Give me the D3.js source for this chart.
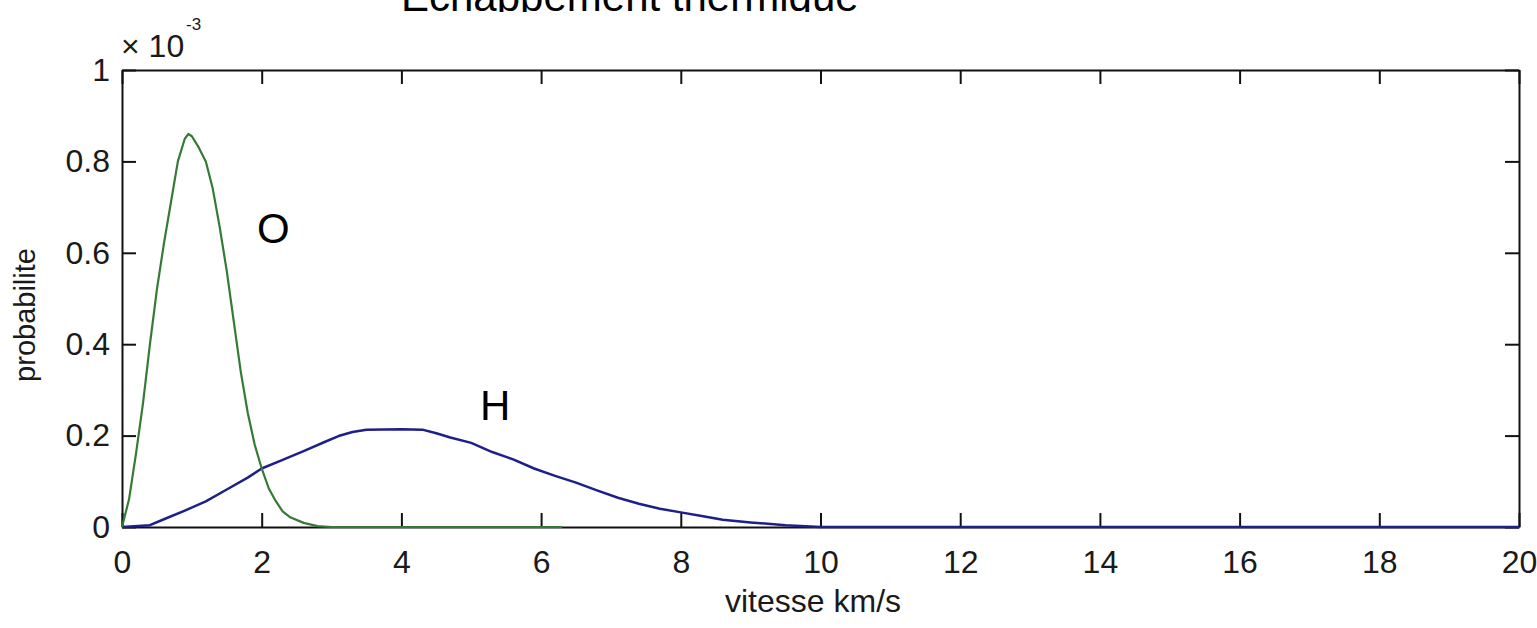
<!DOCTYPE html>
<html>
<head>
<meta charset="utf-8">
<script src="https://cdn.jsdelivr.net/npm/d3@7"></script>
<style>
  html, body { margin: 0; padding: 0; background: #ffffff; }
  svg { display: block; }
  text { font-family: "Liberation Sans", Arial, Helvetica, sans-serif; }
</style>
</head>
<body>
<svg id="chart" width="1537" height="628"></svg>
<script>
// ---- Data (probability values in units of 10^-3) ----
const oSpeed = [0, 0.1, 0.2, 0.3, 0.4, 0.5, 0.6, 0.7, 0.8, 0.9, 0.95, 1.0, 1.1, 1.2, 1.3, 1.4, 1.5, 1.6, 1.7, 1.8, 1.9, 2.0, 2.1, 2.2, 2.3, 2.4, 2.6, 2.8, 3.0, 6.3];
const oProb  = [0, 0.06, 0.16, 0.27, 0.40, 0.52, 0.62, 0.71, 0.80, 0.85, 0.86, 0.855, 0.83, 0.80, 0.74, 0.655, 0.56, 0.45, 0.34, 0.25, 0.18, 0.128, 0.085, 0.057, 0.034, 0.022, 0.009, 0.002, 0, 0];

const hSpeed = [0, 0.4, 0.6, 0.9, 1.2, 1.5, 1.8, 2.0, 2.3, 2.6, 2.9, 3.1, 3.3, 3.5, 4.0, 4.3, 4.5, 4.7, 5.0, 5.3, 5.6, 5.9, 6.2, 6.5, 6.8, 7.1, 7.4, 7.7, 8.0, 8.3, 8.6, 9.0, 9.5, 10, 20];
const hProb  = [0, 0.004, 0.017, 0.036, 0.056, 0.082, 0.108, 0.128, 0.147, 0.166, 0.186, 0.199, 0.208, 0.213, 0.214, 0.213, 0.205, 0.196, 0.184, 0.164, 0.148, 0.128, 0.112, 0.097, 0.080, 0.064, 0.051, 0.040, 0.032, 0.024, 0.016, 0.010, 0.004, 0, 0];

const xTicks = [0, 2, 4, 6, 8, 10, 12, 14, 16, 18, 20];
const yTicks = [0, 0.2, 0.4, 0.6, 0.8, 1];
const yTickLabels = ["0", "0.2", "0.4", "0.6", "0.8", "1"];

const titleText = "Echappement thermique";
const xLabel = "vitesse km/s";
const yLabel = "probabilite";
const expBase = "\u00d7 10";
const expPower = "-3";
const curveNames = ["O", "H"];

// ---- Layout ----
const svg = d3.select("#chart");
const mLeft = 122, mRight = 1519, mTop = 70, mBottom = 527;
const x = d3.scaleLinear().domain([0, 20]).range([mLeft, mRight]);
const y = d3.scaleLinear().domain([0, 1]).range([mBottom, mTop]);

const axisColor = "#111111";
const textColor = "#1a1a1a";
const tickLen = 14;

// Title (only its lower part is visible in the original)
svg.append("clipPath").attr("id", "titleClip")
  .append("rect").attr("x", 0).attr("y", 0).attr("width", 1537).attr("height", 12);
svg.append("text")
  .attr("clip-path", "url(#titleClip)")
  .attr("x", 401).attr("y", 11)
  .attr("font-size", 42).attr("fill", "#000")
  .text(titleText);

// Box + ticks
function styleAxis(g) {
  g.select(".domain").attr("stroke", axisColor).attr("stroke-width", 2);
  g.selectAll(".tick line").attr("stroke", axisColor).attr("stroke-width", 2);
  g.selectAll(".tick text").attr("fill", textColor)
    .attr("font-family", "'Liberation Sans', Arial, sans-serif").attr("font-size", 32);
}

const xAxisB = d3.axisBottom(x).tickValues(xTicks).tickFormat(d3.format("d"))
  .tickSizeInner(-tickLen).tickSizeOuter(0).tickPadding(23);
svg.append("g").attr("transform", `translate(0,${mBottom})`).call(xAxisB).call(styleAxis);

const xAxisT = d3.axisTop(x).tickValues(xTicks).tickFormat("")
  .tickSizeInner(-tickLen).tickSizeOuter(0);
svg.append("g").attr("transform", `translate(0,${mTop})`).call(xAxisT).call(styleAxis);

const yAxisL = d3.axisLeft(y).tickValues(yTicks).tickFormat((d, i) => yTickLabels[i])
  .tickSizeInner(-tickLen).tickSizeOuter(0).tickPadding(12);
svg.append("g").attr("transform", `translate(${mLeft},0)`).call(yAxisL).call(styleAxis);

const yAxisR = d3.axisRight(y).tickValues(yTicks).tickFormat("")
  .tickSizeInner(-tickLen).tickSizeOuter(0);
svg.append("g").attr("transform", `translate(${mRight},0)`).call(yAxisR).call(styleAxis);

// Exponent label
svg.append("text").attr("x", 121).attr("y", 57)
  .attr("font-size", 32).attr("fill", textColor).text(expBase);
svg.append("text").attr("x", 186).attr("y", 30)
  .attr("font-size", 17).attr("fill", textColor).text(expPower);

// Axis labels
svg.append("text").attr("x", 813).attr("y", 612).attr("text-anchor", "middle")
  .attr("font-size", 32).attr("fill", textColor).text(xLabel);
svg.append("text").attr("transform", "translate(35,315) rotate(-90)")
  .attr("text-anchor", "middle")
  .attr("font-size", 29).attr("fill", textColor).text(yLabel);

// Curves
const line = d3.line().x(d => x(d[0])).y(d => y(d[1]));
const hData = hSpeed.map((v, i) => [v, hProb[i]]);
const oData = oSpeed.map((v, i) => [v, oProb[i]]);

svg.append("path").datum(hData).attr("d", line)
  .attr("fill", "none").attr("stroke", "#1f1f8a").attr("stroke-width", 2.5)
  .attr("stroke-linejoin", "round");
svg.append("path").datum(oData).attr("d", line)
  .attr("fill", "none").attr("stroke", "#357a35").attr("stroke-width", 2.2)
  .attr("stroke-linejoin", "round");

// Curve annotations
svg.append("text").attr("x", 257).attr("y", 243)
  .attr("font-size", 42).attr("fill", "#000").text(curveNames[0]);
svg.append("text").attr("x", 480).attr("y", 420)
  .attr("font-size", 42).attr("fill", "#000").text(curveNames[1]);
</script>
</body>
</html>
